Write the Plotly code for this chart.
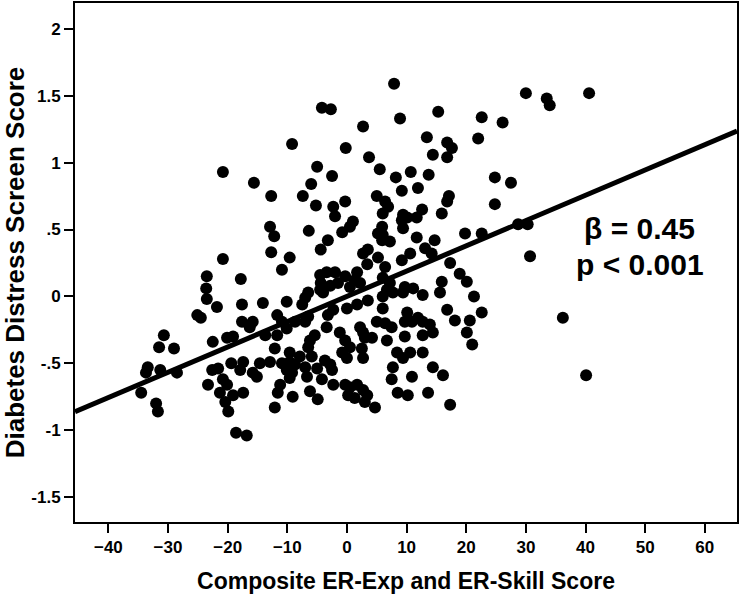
import plotly.graph_objects as go

# composite ER score (x) and diabetes distress screen score (y)
er_score = [
    -34.5, -33.7, -33.4, -32.0, -31.7, -31.5, -31.3, -30.7, -29.0, -28.5,
    -25.1, -24.5, -23.6, -23.5, -23.5, -23.3, -22.6, -22.5, -21.8, -21.6,
    -21.3, -20.8, -20.8, -20.8, -20.4, -20.1, -20.1, -19.9, -19.4, -19.1,
    -19.1, -18.6, -17.9, -17.8, -17.6, -17.6, -17.4, -17.4, -16.8, -16.3,
    -15.8, -15.8, -15.1, -15.6, -14.6, -14.1, -13.7, -12.9, -12.9, -12.2,
    -12.7, -12.7, -12.1, -12.1, -11.7, -11.7, -11.6, -11.2, -10.9, -10.9,
    -10.9, -10.1, -10.1, -10.1, -9.6, -9.6, -9.6, -9.6, -9.2, -9.2,
    -9.1, -8.7, -8.7, -7.9, -7.5, -7.4, -7.0, -7.0, -7.0, -6.7,
    -6.5, -6.5, -6.5, -6.4, -6.2, -6.2, -6.0, -5.9, -5.4, -5.2,
    -5.0, -5.0, -4.9, -4.5, -4.5, -4.4, -4.4, -4.2, -4.2, -4.0,
    -3.7, -3.4, -3.4, -3.2, -3.2, -2.8, -2.8, -2.7, -2.5, -2.5,
    -2.3, -2.3, -2.3, -2.0, -2.0, -1.5, -1.2, -0.8, -0.8, -0.3,
    -0.3, -0.3, -0.3, -0.2, 0.0, 0.0, 0.2, 0.5, 0.5, 0.5,
    0.5, 1.0, 1.3, 1.3, 1.7, 1.7, 1.7, 2.2, 2.2, 2.5,
    2.7, 2.7, 2.7, 2.7, 2.7, 3.0, 3.0, 3.4, 3.4, 3.5,
    3.5, 3.7, 4.2, 4.7, 5.0, 5.0, 5.2, 5.2, 5.5, 5.9,
    5.9, 6.0, 6.0, 6.0, 6.0, 6.0, 6.4, 6.4, 6.4, 6.7,
    6.7, 6.9, 7.2, 7.2, 7.5, 7.5, 7.7, 7.7, 7.9, 8.2,
    8.4, 8.5, 8.9, 9.2, 9.2, 9.2, 9.4, 9.4, 9.4, 9.4,
    9.7, 9.7, 9.7, 10.1, 10.1, 10.2, 10.6, 10.7, 10.9, 10.9,
    11.1, 10.6, 11.7, 11.7, 11.9, 11.9, 12.6, 12.7, 12.7, 12.7,
    12.7, 13.1, 13.4, 13.6, 13.7, 13.9, 14.2, 14.4, 14.4, 14.4,
    14.7, 15.3, 15.6, 15.9, 15.9, 16.1, 16.8, 16.8, 16.8, 16.8,
    17.1, 17.3, 17.3, 17.6, 18.1, 18.9, 19.8, 20.1, 20.1, 20.6,
    21.0, 21.3, 22.0, 22.6, 22.6, 22.6, 24.8, 24.8, 26.1, 27.5,
    28.7, 30.3, 30.7, 30.0, 33.5, 34.0, 40.6, 36.2, 40.1,
]
distress = [
    -0.72, -0.57, -0.53, -0.80, -0.86, -0.38, -0.55, -0.29, -0.39, -0.57,
    -0.14, -0.16, 0.06, 0.15, -0.02, -0.66, -0.55, -0.34, -0.08, -0.54,
    -0.72, 0.28, -0.62, 0.93, -0.79, -0.31, -0.66, -0.86, -0.50, -0.30,
    -0.74, -1.02, -0.55, 0.13, -0.06, -0.19, -0.49, -0.72, -1.04, -0.23,
    -0.19, -0.57, -0.60, 0.85, -0.50, -0.05, -0.29, -0.49, 0.52, 0.45,
    0.75, 0.33, -0.39, -0.83, -0.14, -0.29, -0.72, -0.66, 0.20, -0.19,
    -0.50, -0.04, -0.24, -0.55, 0.29, -0.42, -0.49, -0.61, 1.14, -0.57,
    -0.75, -0.19, -0.51, -0.45, -0.06, 0.75, -0.01, -0.19, -0.53, -0.60,
    0.03, -0.15, -0.38, 0.49, -0.33, -0.71, 0.84, -0.45, -0.29, 0.68,
    0.97, -0.54, -0.77, 0.16, 0.05, 0.35, 0.10, 1.41, -0.62, 0.03,
    -0.48, 0.18, -0.23, 0.42, -0.14, 0.08, -0.51, 1.40, 0.90, -0.55,
    0.67, -0.10, -0.66, 0.60, 0.18, 0.10, -0.27, 0.48, -0.42, 0.71,
    0.15, -0.33, -0.66, 1.11, -0.09, -0.46, -0.74, 0.52, 0.07, -0.38,
    -0.68, 0.56, 0.12, -0.76, 0.18, -0.06, -0.66, 0.10, -0.23, -0.39,
    0.32, -0.27, -0.46, 1.27, -0.70, -0.31, -0.79, 0.24, -0.74, 0.35,
    -0.03, 1.04, -0.31, -0.83, 0.75, -0.19, 0.47, 0.29, 0.95, 0.52,
    0.42, 0.62, 0.46, 0.14, 0.00, -0.09, 0.71, 0.22, -0.20, 0.05,
    -0.33, 0.67, 0.41, 0.10, -0.23, -0.62, 0.03, -0.53, 1.59, 0.89,
    -0.42, -0.72, 1.33, 0.79, 0.57, 0.27, 0.61, 0.51, 0.03, -0.46,
    0.07, -0.19, -0.30, 0.59, -0.12, -0.74, 0.32, 0.93, -0.19, -0.60,
    0.06, -0.42, 0.59, 0.44, 0.81, -0.16, 0.65, 0.01, -0.19, -0.29,
    -0.42, 0.36, 1.19, -0.72, 0.91, -0.21, 0.32, 1.06, -0.27, -0.53,
    0.42, 1.38, 0.03, 0.62, 0.11, -0.59, 1.15, 1.04, 0.71, -0.10,
    0.75, 0.25, -0.81, 1.11, -0.18, 0.17, 0.47, 0.11, -0.27, -0.18,
    -0.36, 0.00, 1.18, 1.34, 0.47, -0.12, 0.89, 0.69, 1.30, 0.85,
    0.54, 0.54, 0.30, 1.52, 1.48, 1.43, 1.52, -0.16, -0.59,
]

# fitted regression line
fit_slope = 0.0189
fit_intercept = 0.0
x_range = [-45.6, 65.4]
y_range = [-1.687, 2.194]

x_ticks = [-40, -30, -20, -10, 0, 10, 20, 30, 40, 50, 60]
y_ticks = [-1.5, -1, -0.5, 0, 0.5, 1, 1.5, 2]
y_tick_text = ["-1.5", "-1", "-.5", "0", ".5", "1", "1.5", "2"]

fit_y = [fit_intercept + fit_slope * v for v in x_range]

font = dict(family="Liberation Sans, Arial, sans-serif", color="black", weight="bold")

fig = go.Figure()
fig.add_trace(go.Scatter(
    x=er_score, y=distress, mode="markers",
    marker=dict(color="black", size=12, line=dict(width=0)),
    showlegend=False, hoverinfo="x+y",
))
fig.add_trace(go.Scatter(
    x=x_range, y=fit_y, mode="lines",
    line=dict(color="black", width=5),
    showlegend=False, hoverinfo="skip",
))

fig.add_annotation(x=49.1, y=0.51, text="β = 0.45", showarrow=False,
                   font=dict(font, size=30), xanchor="center", yanchor="middle")
fig.add_annotation(x=49.1, y=0.235, text="p < 0.001", showarrow=False,
                   font=dict(font, size=30), xanchor="center", yanchor="middle")

axis_common = dict(
    showgrid=False, zeroline=False, showline=True, mirror=True,
    linecolor="black", linewidth=2, automargin=False,
    ticks="outside", ticklen=9, tickwidth=2, tickcolor="black",
    tickfont=dict(font, size=17),
)

fig.update_xaxes(axis_common, range=x_range, tickvals=x_ticks,
                 title=dict(text="Composite ER-Exp and ER-Skill Score",
                            font=dict(font, size=23), standoff=16))
fig.update_yaxes(axis_common, range=y_range, tickvals=y_ticks, ticktext=y_tick_text,
                 title=dict(text="Diabetes Distress Screen Score",
                            font=dict(font, size=26), standoff=16))

fig.update_layout(
    width=742, height=596,
    margin=dict(l=75, r=5, t=3, b=74),
    paper_bgcolor="white", plot_bgcolor="white",
    font=font,
)

# drop the browser's default 8px body margin so the figure sits at the page corner
fig.write_html("out.html", config={"displayModeBar": False},
               post_script="document.body.style.margin='0';")
